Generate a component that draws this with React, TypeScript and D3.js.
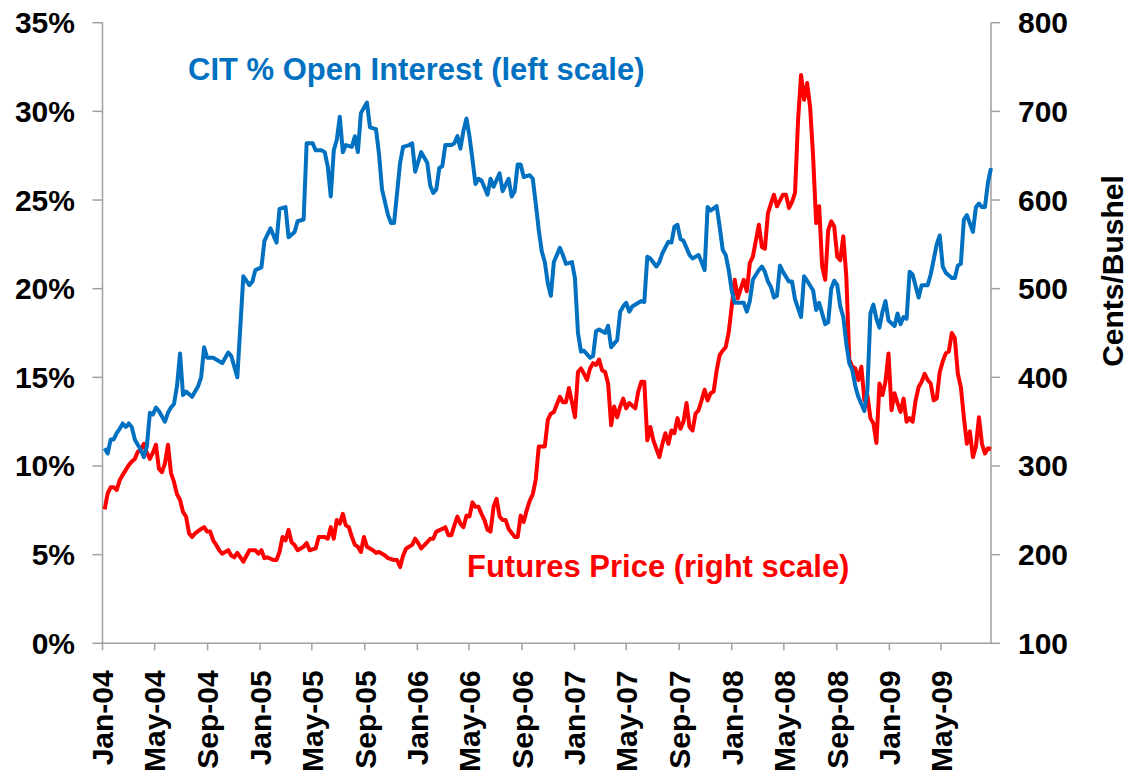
import React from 'react';
import * as d3 from 'd3';

// weekly data, week 0 = Tue 6 Jan 2004
const startDate = new Date(2004, 0, 6);

// CIT % of open interest, [week, percent]
const citShare: [number, number][] = [
  [0, 11.0], [1, 10.7], [2, 11.5], [3, 11.5], [4, 11.85], [5, 12.1], [6, 12.4], [7, 12.2], [8, 12.4], [9, 12.2],
  [10, 11.5], [12, 10.9], [13, 10.5], [14, 11.1], [15, 13.0], [16, 12.9], [17, 13.3], [18, 13.1], [20, 12.5], [21, 13.0],
  [22, 13.3], [23, 13.5], [24, 14.5], [25, 16.35], [26, 14.0], [27, 14.2], [29, 13.9], [31, 14.5], [32, 15.0], [33, 16.7],
  [34, 16.1], [36, 16.1], [37, 16.0], [39, 15.8], [41, 16.4], [42, 16.2], [44, 15.0], [46, 20.7], [48, 20.2], [49, 20.4],
  [50, 21.05], [52, 21.2], [53, 22.7], [55, 23.4], [57, 22.6], [58, 24.5], [60, 24.6], [61, 22.9], [63, 23.2], [64, 23.8],
  [66, 23.9], [67, 28.2], [69, 28.2], [70, 27.8], [72, 27.8], [73, 27.7], [74, 26.9], [75, 25.2], [76, 27.8], [77, 28.4],
  [78, 29.7], [79, 27.7], [80, 28.1], [82, 28.0], [83, 28.6], [84, 27.7], [85, 29.9], [87, 30.5], [88, 29.1], [90, 29.0],
  [91, 27.6], [92, 25.6], [94, 24.15], [95, 23.7], [96, 23.7], [98, 27.1], [99, 28.0], [101, 28.1], [102, 28.2], [103, 26.6],
  [105, 27.7], [107, 27.1], [108, 25.8], [109, 25.4], [110, 25.6], [111, 26.8], [112, 26.9], [113, 28.1], [115, 28.1], [116, 28.2],
  [117, 28.6], [118, 27.9], [119, 28.9], [120, 29.6], [121, 28.6], [122, 27.3], [123, 25.9], [124, 26.2], [125, 26.1], [127, 25.3],
  [128, 26.2], [129, 25.75], [131, 26.5], [132, 25.5], [134, 26.2], [135, 25.2], [136, 25.5], [137, 27.0], [138, 27.0], [139, 26.3],
  [141, 26.4], [142, 26.2], [143, 24.8], [144, 23.3], [145, 22.1], [146, 21.5], [147, 20.3], [148, 19.6], [149, 21.5], [151, 22.3],
  [152, 21.9], [153, 21.4], [155, 21.5], [156, 20.6], [157, 17.5], [158, 16.45], [159, 16.5], [161, 16.1], [162, 16.2], [163, 17.6],
  [164, 17.7], [166, 17.5], [167, 17.9], [168, 16.7], [169, 16.9], [170, 17.1], [171, 18.7], [172, 19.0], [173, 19.2], [174, 18.7],
  [175, 19.0], [178, 19.3], [179, 19.25], [180, 21.8], [181, 21.7], [183, 21.25], [184, 21.5], [185, 22.0], [187, 22.65], [188, 22.6],
  [189, 23.5], [190, 23.6], [191, 22.8], [192, 22.7], [193, 22.3], [194, 21.9], [195, 21.7], [197, 21.9], [198, 21.5], [199, 21.05],
  [200, 24.6], [201, 24.4], [203, 24.65], [204, 23.5], [205, 22.2], [206, 21.9], [207, 21.05], [208, 19.9], [209, 19.2], [210, 19.2],
  [212, 19.2], [213, 18.7], [214, 19.3], [215, 20.5], [217, 21.05], [218, 21.25], [219, 20.95], [220, 20.4], [221, 20.1], [222, 19.5],
  [223, 19.6], [224, 21.3], [225, 20.95], [227, 20.4], [228, 20.4], [229, 19.4], [231, 18.4], [232, 20.7], [233, 20.45], [235, 19.9],
  [236, 18.8], [237, 19.2], [239, 18.0], [240, 18.1], [241, 20.0], [242, 20.45], [243, 20.2], [244, 19.0], [245, 18.4], [246, 16.9],
  [247, 15.8], [248, 15.4], [249, 14.5], [250, 13.9], [251, 13.5], [252, 13.1], [253, 14.3], [254, 18.6], [255, 19.1], [256, 18.3],
  [257, 17.8], [258, 18.7], [259, 19.3], [260, 18.2], [262, 17.9], [263, 18.6], [264, 18.0], [265, 18.4], [266, 18.3], [267, 20.95],
  [268, 20.8], [270, 19.5], [271, 20.2], [273, 20.2], [274, 20.8], [276, 22.5], [277, 23.0], [278, 21.25], [279, 20.9], [281, 20.6],
  [282, 20.6], [283, 21.3], [284, 21.4], [285, 23.9], [286, 24.15], [288, 23.2], [289, 24.6], [290, 24.8], [291, 24.6], [292, 24.6],
  [293, 26.0], [294, 26.8],
];

// futures price, cents/bushel, [week, price]
const futuresPrice: [number, number][] = [
  [0, 251], [1, 269], [2, 276], [3, 276], [4, 273], [5, 284], [6, 290], [8, 301], [9, 305], [10, 308],
  [11, 316], [12, 318], [13, 325], [14, 315], [15, 308], [16, 315], [17, 324], [18, 297], [19, 293], [20, 303],
  [21, 324], [22, 292], [23, 282], [24, 268], [25, 262], [26, 248], [27, 243], [28, 224], [29, 220], [30, 224],
  [32, 229], [33, 231], [34, 226], [35, 226], [36, 216], [37, 211], [38, 205], [39, 201], [41, 205], [42, 199],
  [43, 197], [44, 202], [46, 192], [48, 205], [49, 205], [50, 205], [51, 201], [52, 205], [53, 196], [54, 197],
  [56, 194], [57, 194], [58, 203], [59, 220], [60, 216], [61, 228], [62, 214], [63, 211], [64, 205], [66, 209],
  [67, 213], [68, 205], [70, 207], [71, 220], [72, 220], [73, 220], [74, 218], [75, 231], [76, 218], [77, 239],
  [78, 235], [79, 246], [80, 233], [81, 231], [82, 220], [83, 211], [84, 209], [85, 203], [86, 220], [87, 209],
  [89, 205], [90, 202], [91, 203], [92, 201], [93, 199], [94, 196], [96, 194], [97, 194], [98, 186], [99, 199],
  [100, 207], [102, 211], [103, 218], [104, 213], [105, 207], [107, 214], [108, 218], [109, 218], [110, 226], [112, 229],
  [113, 231], [114, 222], [115, 222], [116, 233], [117, 243], [118, 235], [119, 231], [120, 244], [121, 243], [122, 259],
  [123, 254], [124, 254], [125, 246], [126, 239], [127, 228], [128, 226], [129, 254], [130, 263], [131, 243], [132, 239],
  [133, 239], [134, 229], [136, 220], [137, 220], [138, 244], [139, 237], [140, 250], [141, 261], [142, 268], [143, 285],
  [144, 322], [145, 322], [146, 322], [147, 352], [148, 359], [149, 361], [151, 378], [152, 372], [153, 372], [154, 388],
  [155, 372], [156, 355], [157, 406], [158, 410], [159, 404], [160, 397], [161, 410], [162, 416], [163, 414], [164, 420],
  [165, 408], [166, 406], [167, 393], [168, 346], [169, 367], [170, 355], [171, 367], [172, 376], [173, 365], [174, 371],
  [176, 365], [177, 384], [178, 395], [179, 395], [180, 329], [181, 344], [182, 329], [184, 310], [185, 325], [186, 337],
  [187, 325], [188, 340], [189, 337], [190, 354], [191, 342], [192, 350], [193, 371], [194, 344], [195, 340], [196, 359],
  [197, 363], [198, 374], [199, 386], [200, 374], [201, 382], [202, 384], [203, 408], [204, 425], [205, 430], [206, 434],
  [207, 451], [208, 480], [209, 510], [210, 489], [211, 500], [212, 510], [213, 497], [214, 529], [215, 536], [217, 572],
  [218, 547], [219, 545], [220, 585], [221, 596], [222, 606], [223, 593], [225, 606], [226, 606], [227, 591], [228, 598],
  [229, 608], [230, 690], [231, 741], [232, 713], [233, 732], [234, 705], [235, 649], [236, 574], [237, 593], [238, 525],
  [239, 510], [240, 566], [241, 576], [242, 570], [243, 536], [244, 532], [245, 559], [246, 514], [247, 420], [248, 412],
  [249, 410], [250, 397], [251, 412], [252, 374], [253, 380], [254, 354], [255, 348], [256, 326], [257, 393], [258, 380],
  [259, 395], [260, 427], [261, 363], [262, 382], [263, 371], [264, 361], [265, 376], [266, 350], [267, 354], [268, 350],
  [269, 374], [270, 389], [271, 395], [272, 404], [273, 397], [274, 393], [275, 374], [276, 376], [277, 406], [278, 418],
  [279, 427], [280, 429], [281, 450], [282, 444], [283, 404], [284, 389], [285, 355], [286, 325], [287, 339], [288, 310],
  [289, 322], [290, 355], [291, 325], [292, 314], [293, 320], [294, 319],
];

const pctTicks = [0, 5, 10, 15, 20, 25, 30, 35];
const priceTicks = [100, 200, 300, 400, 500, 600, 700, 800];

const blue = '#0070C0';
const red = '#FF0000';
const axisGrey = '#A0A0A0';
const font = 'Arial, "Liberation Sans", sans-serif';

const weekDate = (w: number) => d3.timeDay.offset(startDate, w * 7);

export default function App() {
  const left = 102.5, right = 991, top = 22.7, bottom = 643.3;

  const x = d3.scaleTime()
    .domain([new Date(2004, 0, 1), new Date(2009, 7, 25)])
    .range([left, right]);
  const yPct = d3.scaleLinear().domain([0, 35]).range([bottom, top]);
  const yPrice = d3.scaleLinear().domain([100, 800]).range([bottom, top]);

  const citLine = d3.line<[number, number]>()
    .x(d => x(weekDate(d[0])))
    .y(d => yPct(d[1]));
  const priceLine = d3.line<[number, number]>()
    .x(d => x(weekDate(d[0])))
    .y(d => yPrice(d[1]));

  const monthTicks = d3.timeMonth.every(4)!.range(new Date(2004, 0, 1), new Date(2009, 7, 25));
  const fmt = d3.timeFormat('%b-%y');

  return (
    <svg width={1130} height={777} style={{ position: 'absolute', left: 0, top: 0, background: '#fff' }}
      fontFamily={font} fontWeight="bold">
      {/* left axis */}
      <line x1={left} x2={left} y1={top} y2={bottom} stroke={axisGrey} strokeWidth={1.5} />
      {pctTicks.map(t => (
        <g key={t} transform={`translate(0, ${yPct(t)})`}>
          <line x1={left - 10} x2={left} stroke={axisGrey} strokeWidth={1.5} />
          <text x={75} dy="0.35em" textAnchor="end" fontSize={30} fill="#000">{t}%</text>
        </g>
      ))}

      {/* right axis */}
      <line x1={right} x2={right} y1={top} y2={bottom} stroke={axisGrey} strokeWidth={1.5} />
      {priceTicks.map(t => (
        <g key={t} transform={`translate(0, ${yPrice(t)})`}>
          <line x1={right} x2={right + 9} stroke={axisGrey} strokeWidth={1.5} />
          <text x={1018} dy="0.35em" fontSize={30} fill="#000">{t}</text>
        </g>
      ))}
      <text transform="translate(1123, 271) rotate(-90)" textAnchor="middle" fontSize={30} fill="#000">
        Cents/Bushel
      </text>

      {/* x axis */}
      <line x1={left} x2={right} y1={bottom} y2={bottom} stroke={axisGrey} strokeWidth={1.5} />
      {monthTicks.map((d, i) => (
        <g key={i} transform={`translate(${x(d)}, ${bottom})`}>
          <line y1={0} y2={7} stroke={axisGrey} strokeWidth={1.5} />
          <text transform="translate(0, 27) rotate(-90)" dy="0.36em" textAnchor="end" fontSize={30} fill="#000">
            {fmt(d)}
          </text>
        </g>
      ))}

      {/* series */}
      <path d={priceLine(futuresPrice) || ''} fill="none" stroke={red} strokeWidth={4} strokeLinejoin="round" />
      <path d={citLine(citShare) || ''} fill="none" stroke={blue} strokeWidth={4} strokeLinejoin="round" />

      <text x={188} y={80} fontSize={31} fill={blue}>CIT % Open Interest (left scale)</text>
      <text x={467} y={577} fontSize={31} fill={red}>Futures Price (right scale)</text>
    </svg>
  );
}
